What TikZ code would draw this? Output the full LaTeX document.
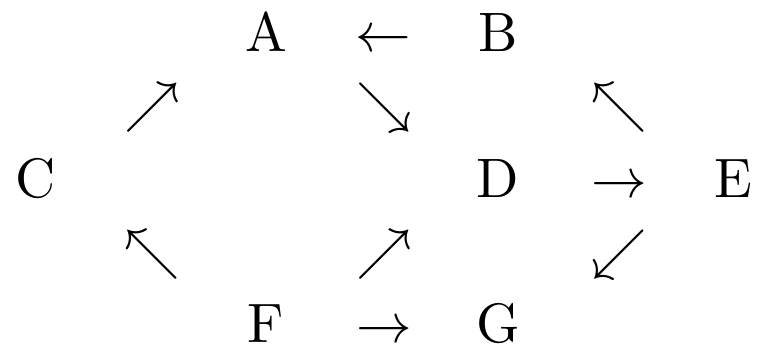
\documentclass[tikz,border=0pt]{standalone}
\usepackage{amsmath}
\usetikzlibrary{positioning}

\begin{document}
\begin{tikzpicture}[x=0.18pt,y=-0.18pt,
  obj/.style={anchor=base, inner sep=0pt},
  arr/.style={anchor=base, inner sep=0pt}]
\useasboundingbox (0,0) rectangle (763,350);
% objects
\node[obj] (A) at (266,52) {A};
\node[obj] (B) at (498,52) {B};
\node[obj] (C) at (36,198) {C};
\node[obj] (D) at (498,198) {D};
\node[obj] (E) at (733,198) {E};
\node[obj] (F) at (266,343) {F};
\node[obj] (G) at (498,343) {G};
% arrows
\node[arr] (BA) at (383,52) {$\leftarrow$};
\node[arr] (CA) at (152,122) {$\nearrow$};
\node[arr] (AD) at (384,122) {$\searrow$};
\node[arr] (EB) at (619,122) {$\nwarrow$};
\node[arr] (DE) at (619,198) {$\rightarrow$};
\node[arr] (FC) at (152,269) {$\nwarrow$};
\node[arr] (FD) at (384,269) {$\nearrow$};
\node[arr] (EG) at (619,269) {$\swarrow$};
\node[arr] (FG) at (384,343) {$\rightarrow$};
\end{tikzpicture}
\end{document}
